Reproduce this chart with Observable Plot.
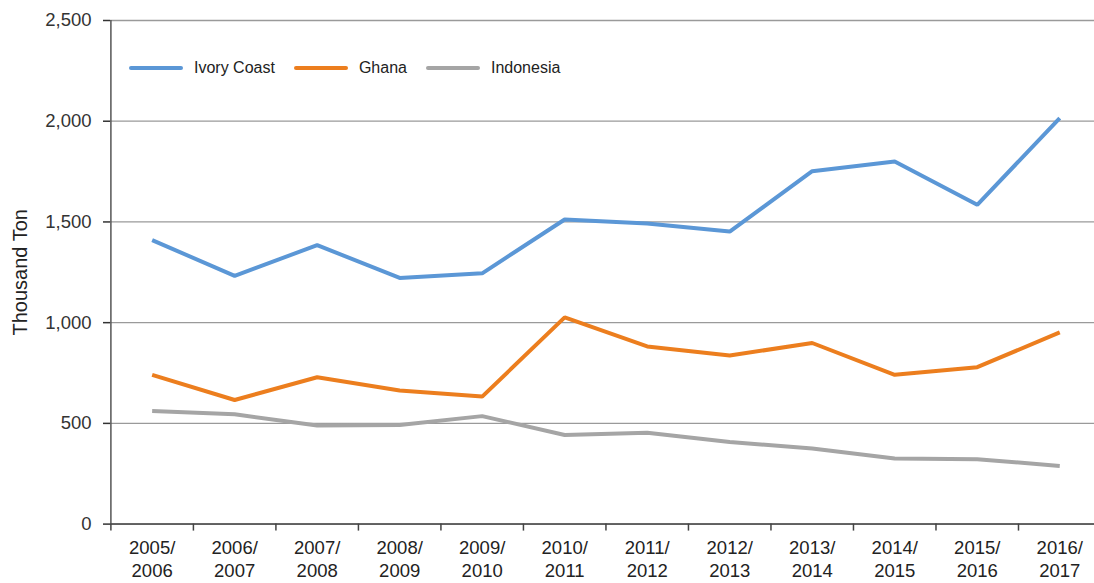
<!DOCTYPE html>
<html>
<head>
<meta charset="utf-8">
<script src="https://cdn.jsdelivr.net/npm/d3@7"></script>
<script src="https://cdn.jsdelivr.net/npm/@observablehq/plot@0.6"></script>
<style>
  html, body { margin: 0; padding: 0; background: #fff; }
  #wrap { position: relative; width: 1094px; height: 583px; font-family: "Liberation Sans", Arial, Helvetica, sans-serif; }
  #legend { position: absolute; left: 129px; top: 59px; display: flex; align-items: center; font-size: 16px; color: #222; }
  .item { display: flex; align-items: center; margin-right: 19px; }
  .sw { width: 54px; height: 4px; border-radius: 2px; margin-right: 11px; }
</style>
</head>
<body>
<div id="wrap"></div>
<script>
const categories = ["2005/2006","2006/2007","2007/2008","2008/2009","2009/2010","2010/2011","2011/2012","2012/2013","2013/2014","2014/2015","2015/2016","2016/2017"];
const ivoryCoast = [1410, 1232, 1385, 1222, 1245, 1512, 1492, 1452, 1752, 1800, 1585, 2015];
const ghana      = [741, 616, 729, 663, 633, 1026, 882, 837, 899, 741, 779, 952];
const indonesia  = [561, 545, 490, 492, 536, 442, 453, 408, 375, 326, 322, 289];
const seriesNames = ["Ivory Coast", "Ghana", "Indonesia"];
const seriesColors = ["#5B97D6", "#EC7E1E", "#A5A5A5"];
const yTicks = [0, 500, 1000, 1500, 2000, 2500];
const yLabel = "Thousand Ton";

const seriesValues = [ivoryCoast, ghana, indonesia];
const data = [];
seriesNames.forEach((name, s) => {
  seriesValues[s].forEach((v, i) => data.push({series: name, i, value: v}));
});
const idx = d3.range(categories.length);
const boundaries = d3.range(categories.length + 1).map(i => i - 0.5);

const chart = Plot.plot({
  width: 1094,
  height: 583,
  marginLeft: 110,
  marginRight: 0,
  marginTop: 20,
  marginBottom: 59.4,
  style: {fontFamily: '"Liberation Sans", Arial, Helvetica, sans-serif', background: "#fff", color: "#222"},
  x: {type: "linear", domain: [-0.5, categories.length - 0.5], range: [110.4, 1100.5]},
  y: {domain: [0, 2500], range: [523.6, 20]},
  color: {domain: seriesNames, range: seriesColors},
  marks: [
    Plot.gridY(yTicks, {stroke: "#9a9a9a", strokeOpacity: 1, strokeWidth: 1.3}),
    Plot.ruleX([-0.5], {stroke: "#555", strokeWidth: 1.5}),
    Plot.ruleY([0], {stroke: "#444", strokeWidth: 1.5}),
    Plot.axisY(yTicks, {tickSize: 7, tickPadding: 12, tickFormat: d3.format(","), fontSize: 18.5, color: "#333", strokeWidth: 1.5, label: null}),
    Plot.axisX(boundaries, {anchor: "bottom", tickSize: 7, tickFormat: () => "", color: "#444", strokeWidth: 1.5, label: null}),
    Plot.axisX(idx, {anchor: "bottom", tickSize: 0, tickPadding: 14, tickFormat: i => categories[i].replace("/", "/\n"), fontSize: 18.5, lineHeight: 1.24, color: "#222", label: null}),
    Plot.text([yLabel], {frameAnchor: "left", rotate: -90, dx: -89.5, fontSize: 20, textAnchor: "middle", lineAnchor: "middle", fill: "#222"}),
    Plot.line(data, {x: "i", y: "value", z: "series", stroke: "series", strokeWidth: 4, strokeLinejoin: "miter", strokeLinecap: "butt"})
  ]
});

const wrap = document.getElementById("wrap");
wrap.appendChild(chart);
const legend = document.createElement("div");
legend.id = "legend";
seriesNames.forEach((name, s) => {
  const it = document.createElement("div");
  it.className = "item";
  const sw = document.createElement("div");
  sw.className = "sw";
  sw.style.background = seriesColors[s];
  const t = document.createElement("span");
  t.textContent = name;
  it.appendChild(sw);
  it.appendChild(t);
  legend.appendChild(it);
});
wrap.appendChild(legend);
</script>
</body>
</html>
